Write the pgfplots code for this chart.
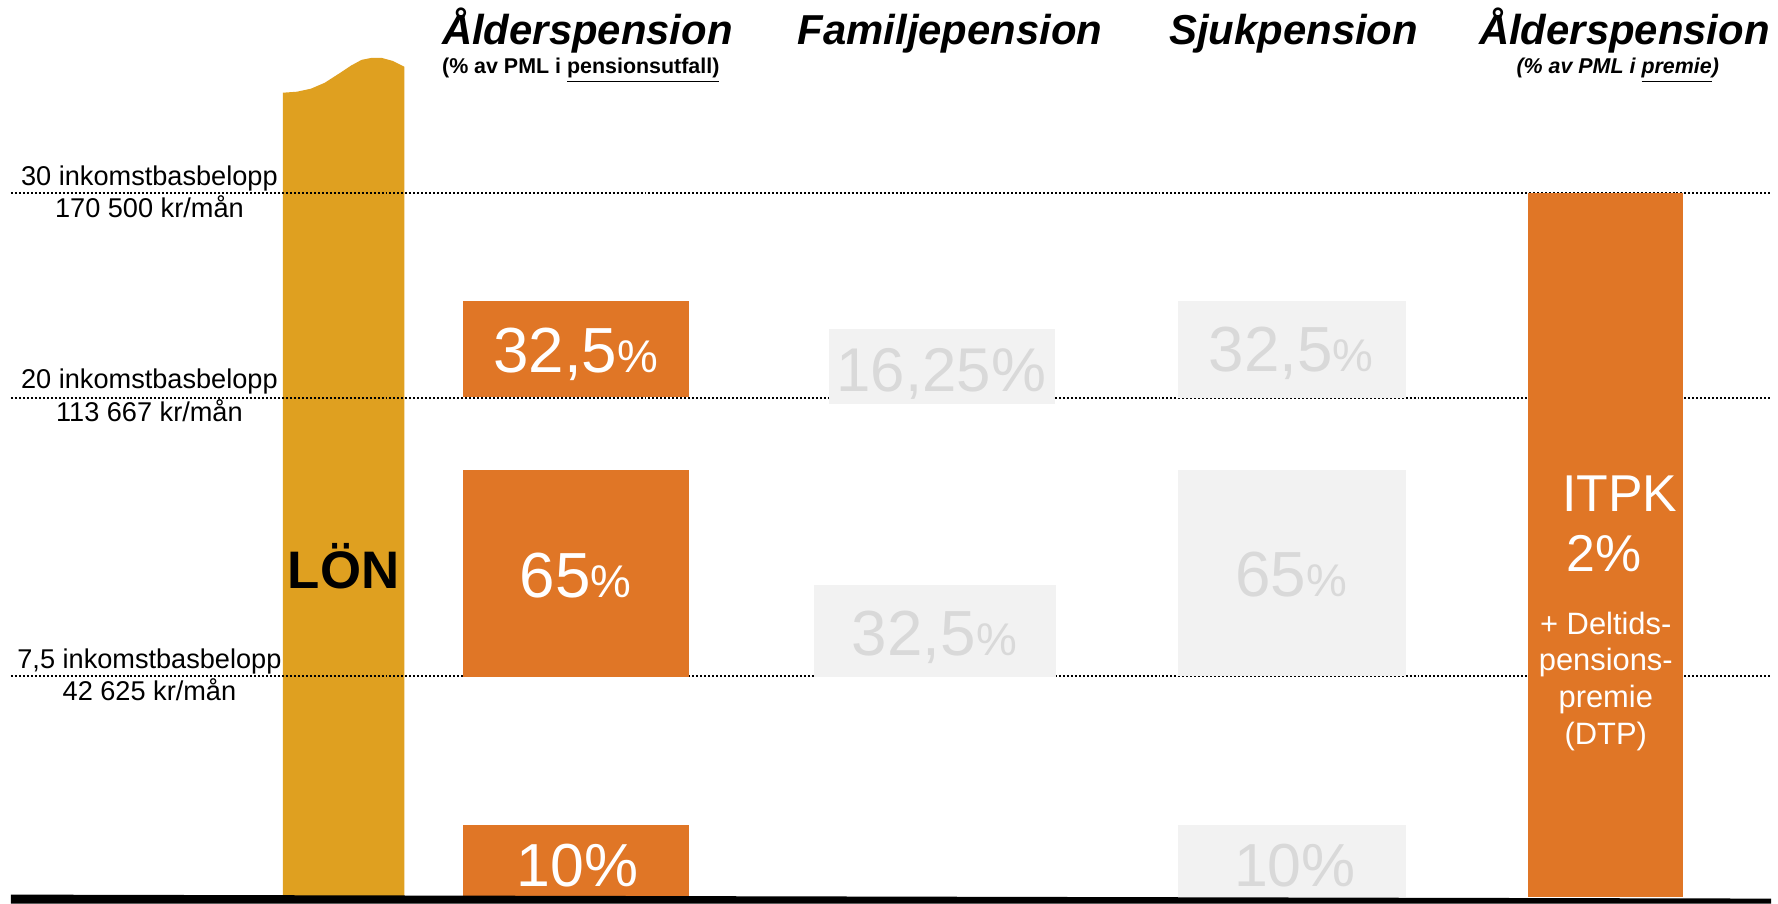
\documentclass[border=0pt]{standalone}
\usepackage{fontspec}
\setmainfont{Liberation Sans}
\usepackage{pgfplots}
\pgfplotsset{compat=1.18}

\definecolor{lon}{RGB}{223,160,32}
\definecolor{ora}{RGB}{224,118,38}
\definecolor{gbox}{RGB}{242,242,242}
\definecolor{gtxt}{RGB}{217,217,217}

% 1 px of the reference = 0.4pt
\newcommand{\fs}[1]{\fontsize{#1}{#1}\selectfont}
\newcommand{\pct}[1]{{\fs{25.6pt}#1{\fs{18.4pt}\%}}}

\begin{document}
\begin{tikzpicture}
\begin{axis}[
    width=711.2pt, height=362.4pt, scale only axis,
    xmin=0, xmax=1778, ymin=0, ymax=906, y dir=reverse,
    enlargelimits=false, hide axis, clip=false,
    every node/.style={inner sep=0pt},
]
\path (rel axis cs:0,0) rectangle (rel axis cs:1,1);

% LÖN column with wavy top
\addplot[fill=lon, draw=none] coordinates {
  (284,899) (284,92) (298,91) (312,88) (326,82) (340,73) (352,65) (363,59)
  (373,57) (383,57) (394,60) (406,66) (406,899)} -- cycle;

% income thresholds
\addplot[black, line width=0.8pt, dash pattern=on 0.8pt off 0.8pt] coordinates {(11,193) (1778,193)};
\addplot[black, line width=0.8pt, dash pattern=on 0.8pt off 0.8pt] coordinates {(11,398) (1778,398)};
\addplot[black, line width=0.8pt, dash pattern=on 0.8pt off 0.8pt] coordinates {(11,678) (1778,678)};

% Ålderspension (pensionsutfall)
\addplot[fill=ora, draw=none] coordinates {(465,301) (692,301) (692,397) (465,397)} -- cycle;
\addplot[fill=ora, draw=none] coordinates {(465,471) (692,471) (692,679) (465,679)} -- cycle;
\addplot[fill=ora, draw=none] coordinates {(465,827) (692,827) (692,899) (465,899)} -- cycle;
% Familjepension
\addplot[fill=gbox, draw=none] coordinates {(832,329) (1059,329) (1059,404) (832,404)} -- cycle;
\addplot[fill=gbox, draw=none] coordinates {(817,586) (1060,586) (1060,679) (817,679)} -- cycle;
% Sjukpension
\addplot[fill=gbox, draw=none] coordinates {(1183,301) (1411,301) (1411,398) (1183,398)} -- cycle;
\addplot[fill=gbox, draw=none] coordinates {(1183,471) (1411,471) (1411,678) (1183,678)} -- cycle;
\addplot[fill=gbox, draw=none] coordinates {(1183,827) (1411,827) (1411,899) (1183,899)} -- cycle;
% Ålderspension (premie)
\addplot[fill=ora, draw=none] coordinates {(1534,193) (1690,193) (1690,899) (1534,899)} -- cycle;

% baseline
\addplot[fill=black, draw=none] coordinates {(11,897) (1778,901) (1778,906) (11,906)} -- cycle;

% headings
\node[anchor=base west] at (axis cs:435,44) {\fs{16.8pt}\bfseries\itshape Ålderspension};
\node[anchor=base west] at (axis cs:792,44) {\fs{16.8pt}\bfseries\itshape Familjepension};
\node[anchor=base west] at (axis cs:1165,44) {\fs{16.8pt}\bfseries\itshape Sjukpension};
\node[anchor=base west] at (axis cs:1476,44) {\fs{16.8pt}\bfseries\itshape Ålderspension};
\node[anchor=base west] at (axis cs:435,73) {\fs{8.6pt}\bfseries (\% av PML i \underline{pensionsutfall)}};
\node[anchor=base] at (axis cs:1624,73) {\fs{8.6pt}\bfseries\itshape (\% av PML i \underline{premie})};

% threshold labels
\node[anchor=base] at (axis cs:150,185) {\fs{10.9pt}30 inkomstbasbelopp};
\node[anchor=base] at (axis cs:150,217) {\fs{10.9pt}170 500 kr/mån};
\node[anchor=base] at (axis cs:150,389) {\fs{10.9pt}20 inkomstbasbelopp};
\node[anchor=base] at (axis cs:150,422) {\fs{10.9pt}113 667 kr/mån};
\node[anchor=base] at (axis cs:150,670) {\fs{10.9pt}7,5 inkomstbasbelopp};
\node[anchor=base] at (axis cs:150,702) {\fs{10.9pt}42 625 kr/mån};

\node[anchor=base] at (axis cs:345,590) {\fs{21.2pt}\bfseries LÖN};

% percentages
\node[anchor=base, text=white] at (axis cs:578,373) {\pct{32,5}};
\node[anchor=base, text=white] at (axis cs:578,599) {\pct{65}};
\node[anchor=base, text=white] at (axis cs:580,889) {\fs{24.4pt}10\%};
\node[anchor=base, text=gtxt] at (axis cs:945,392) {\fs{24.8pt}16,25\%};
\node[anchor=base, text=gtxt] at (axis cs:938,657) {\pct{32,5}};
\node[anchor=base, text=gtxt] at (axis cs:1296,372) {\pct{32,5}};
\node[anchor=base, text=gtxt] at (axis cs:1296,598) {\pct{65}};
\node[anchor=base, text=gtxt] at (axis cs:1300,889) {\fs{24.4pt}10\%};

% ITPK
\node[anchor=base, text=white] at (axis cs:1626,512) {\fs{20.8pt}ITPK};
\node[anchor=base, text=white] at (axis cs:1610,573) {\fs{20.8pt}2\%};
\node[anchor=base, text=white] at (axis cs:1612,636) {\fs{12.4pt}+ Deltids-};
\node[anchor=base, text=white] at (axis cs:1612,672) {\fs{12.4pt}pensions-};
\node[anchor=base, text=white] at (axis cs:1612,709) {\fs{12.4pt}premie};
\node[anchor=base, text=white] at (axis cs:1612,746) {\fs{12.4pt}(DTP)};
\end{axis}
\end{tikzpicture}
\end{document}
